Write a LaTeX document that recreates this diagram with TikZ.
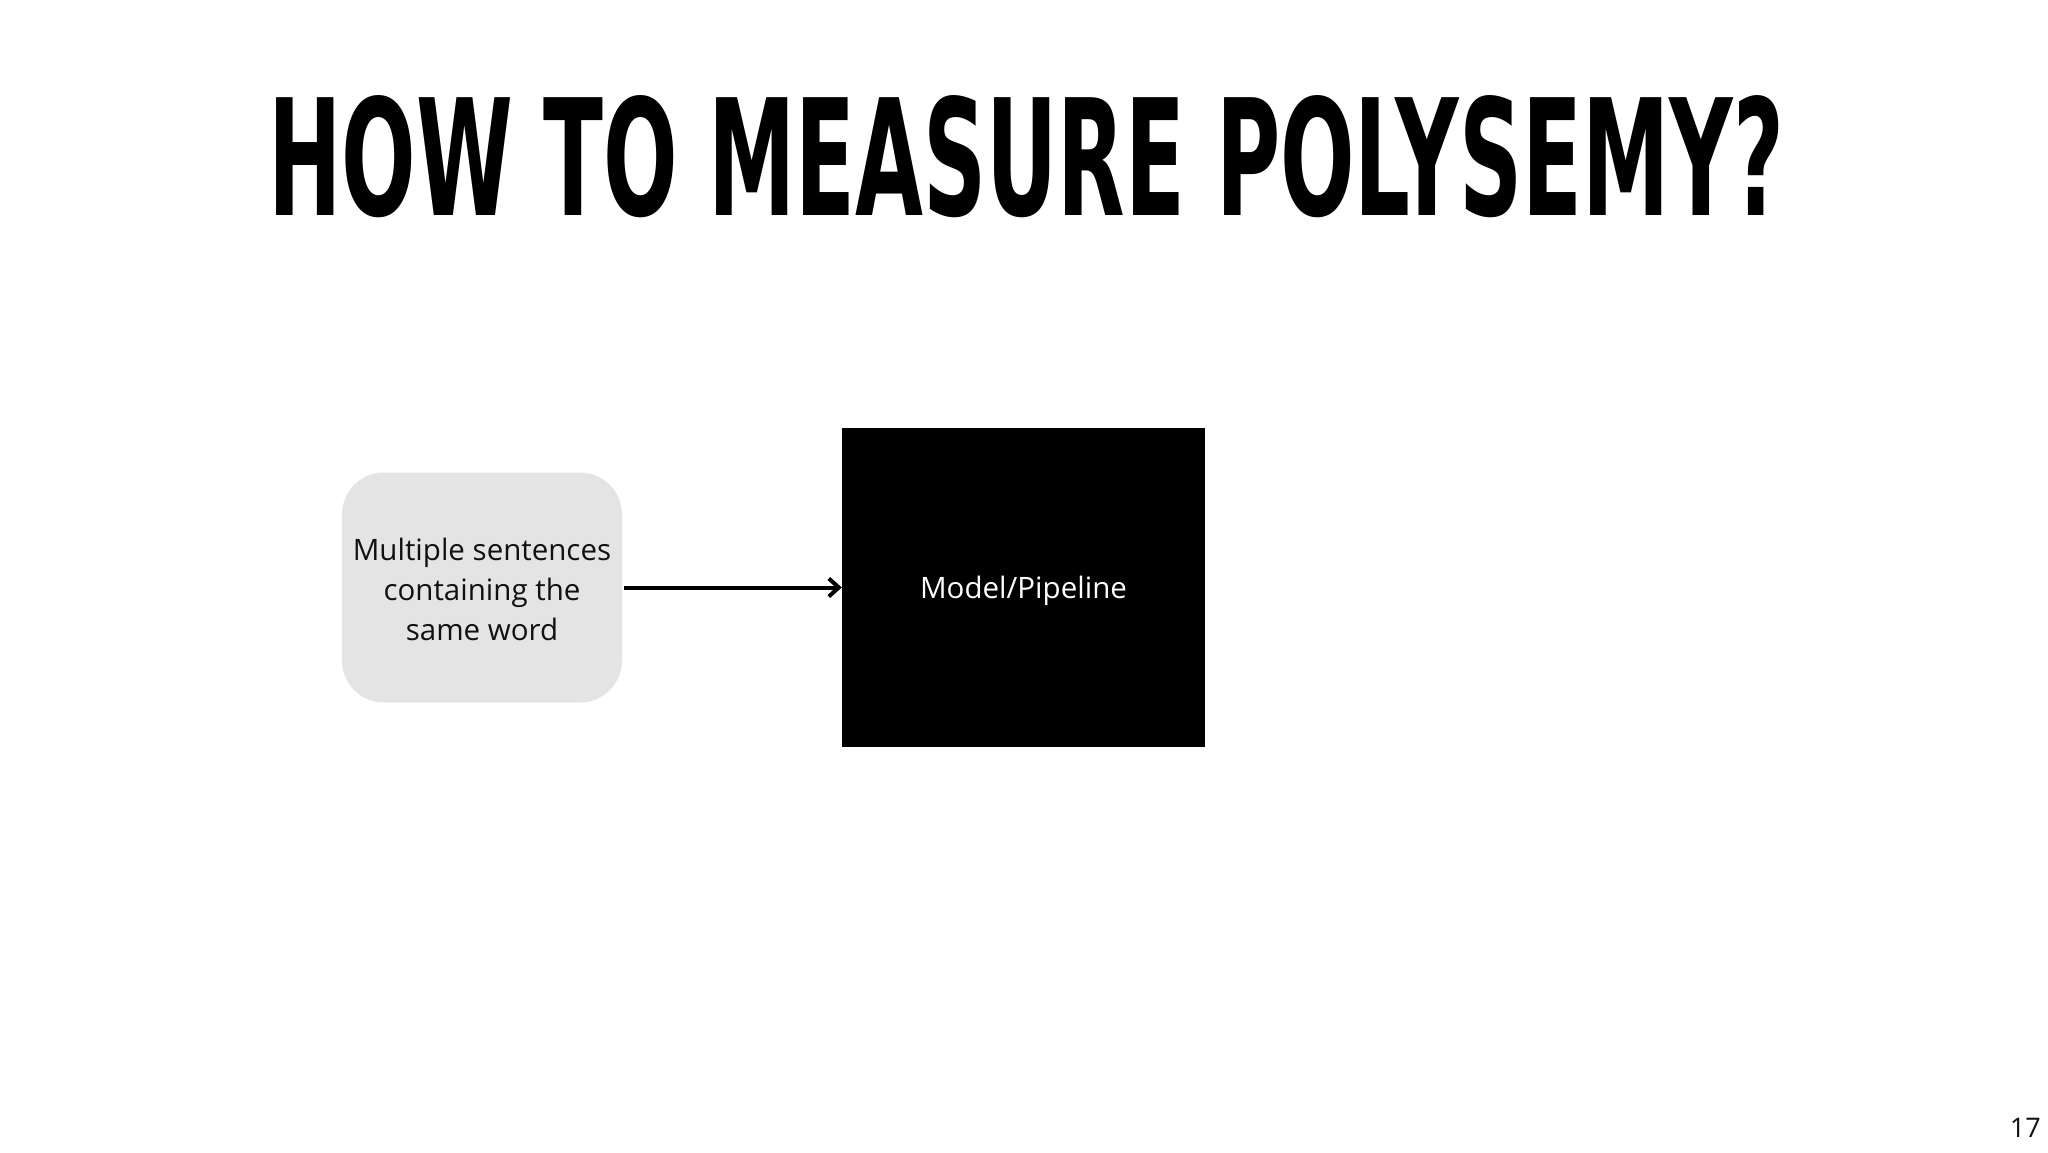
\documentclass[tikz,border=0pt]{standalone}
\usepackage{fontspec}
\setmainfont{Open Sans}
\newfontfamily\titlefont{DejaVu Sans Condensed}
\usetikzlibrary{arrows.meta}
\definecolor{boxgray}{RGB}{228,228,228}
\definecolor{inktext}{RGB}{17,17,17}
\tikzset{
  inputbox/.style={fill=boxgray, draw=none, rounded corners=42pt, minimum width=280pt, minimum height=230pt, inner sep=0pt, align=center, text=inktext, font=\fontsize{29.5}{40}\selectfont},
  modelbox/.style={fill=black, draw=none, minimum width=363pt, minimum height=319pt, inner sep=0pt, text=white, font=\fontsize{29.5}{36}\selectfont},
  flowarrow/.style={line width=4pt, -{Straight Barb[length=10pt,width=18pt]}},
}
\begin{document}
\begin{tikzpicture}[x=1pt,y=-1pt]
\useasboundingbox[fill=white] (0,0) rectangle (2048,1152);
\node[anchor=south west, inner sep=0pt] (title) at (268,218)
  {\resizebox{1515pt}{120pt}{\titlefont\bfseries HOW TO MEASURE POLYSEMY?}};
\node[inputbox] (input) at (482,587.5) {\raisebox{-1.5pt}[\height][\depth]{\parbox{270pt}{\centering Multiple sentences\\containing the\\same word}}};
\node[modelbox] (model) at (1023.5,587.5) {\raisebox{-3pt}[\height][\depth]{Model/Pipeline}};
\draw[flowarrow] ([xshift=2pt]input.east) -- (model.west);
\node[anchor=base east, inner sep=0pt, font=\fontsize{27}{32}\selectfont, text=inktext] (pagenum) at (2041,1137) {17};
\end{tikzpicture}
\end{document}
